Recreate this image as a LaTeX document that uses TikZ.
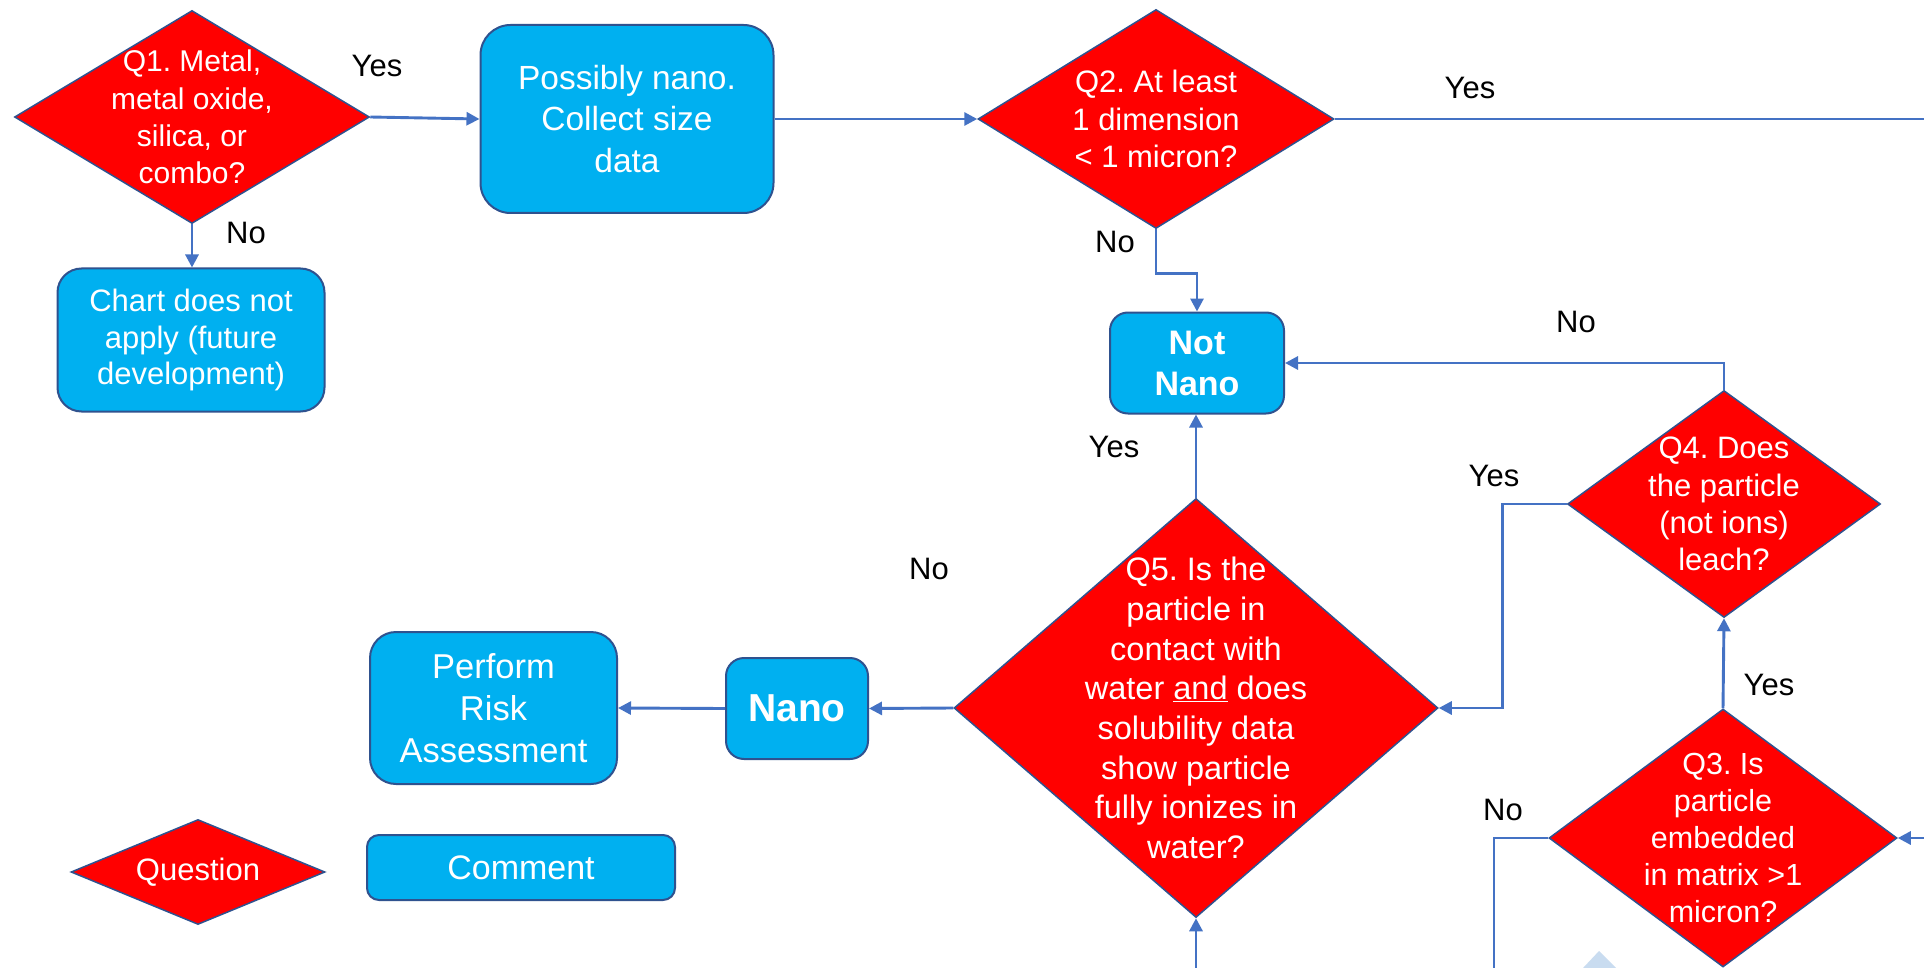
\documentclass[tikz,border=0pt]{standalone}
\usepackage{fontspec}
\setmainfont{Liberation Sans}
\usetikzlibrary{shapes.geometric,arrows.meta,calc}

\definecolor{boxblue}{HTML}{00B0F0}
\definecolor{edgeblue}{HTML}{2F528F}
\definecolor{qred}{HTML}{FF0000}
\definecolor{linkblue}{HTML}{4472C4}
\definecolor{paleblue}{HTML}{C9DCF0}

\newcommand{\fsz}[2]{\fontsize{#1}{#2}\selectfont}
\frenchspacing

\begin{document}
\begin{tikzpicture}[x=1pt,y=-1pt,
  qshape/.style={diamond, draw=edgeblue, line width=1.5pt, fill=qred, inner sep=0pt},
  qtext/.style={text=white, align=center, inner sep=0pt},
  box/.style={draw=edgeblue, line width=2pt, fill=boxblue, text=white, align=center, inner sep=0pt},
  link/.style={draw=linkblue, line width=2.9pt},
  arr/.style={link, -{Triangle[length=13pt,width=13pt]}},
  lbl/.style={text=black, font=\fsz{31}{37}, inner sep=0pt}]

% canvas
\fill[white] (0,0) rectangle (1924,968);
\useasboundingbox (0,0) rectangle (1924,968);

% ---- question diamonds ----
\node[qshape, minimum width=355pt, minimum height=213pt] (q1) at (192,117) {};
\node[qtext, font=\fsz{30}{37.2}] (q1t) at (q1) {Q1. Metal,\\metal oxide,\\silica, or\\combo?};

\node[qshape, minimum width=356pt, minimum height=219pt] (q2) at (1156,119) {};
\node[qtext, font=\fsz{31}{37.4}] (q2t) at (q2) {Q2. At least\\1 dimension\\< 1 micron?};

\node[qshape, minimum width=313pt, minimum height=227pt] (q4) at (1724,504) {};
\node[qtext, font=\fsz{31}{37.2}] (q4t) at (q4) {Q4. Does\\the particle\\(not ions)\\leach?};

\node[qshape, minimum width=484pt, minimum height=419pt] (q5) at (1196,708) {};
\node[qtext, font=\fsz{32.5}{39.7}] (q5t) at (q5) {Q5. Is the\\particle in\\contact with\\water \underline{and} does\\solubility data\\show particle\\fully ionizes in\\water?};

\node[qshape, minimum width=348pt, minimum height=258pt] (q3) at (1723,838) {};
\node[qtext, font=\fsz{30.5}{37}] (q3t) at (q3) {Q3. Is\\particle\\embedded\\in matrix >1\\micron?};

% ---- comment boxes ----
\node[box, rounded corners=30pt, minimum width=293pt, minimum height=188pt, font=\fsz{33.5}{41.7}] (pos) at (627,119) {Possibly nano.\\Collect size\\data};
\node[box, rounded corners=24pt, minimum width=267pt, minimum height=143pt, font=\fsz{31}{36.7}] (chart) at (191,340) {Chart does not\\apply (future\\development)};
\node[box, rounded corners=18pt, minimum width=174pt, minimum height=101pt, font=\bfseries\fsz{34}{41}] (notnano) at (1197,363) {Not\\Nano};
\node[box, rounded corners=18pt, minimum width=142pt, minimum height=101pt, font=\bfseries\fsz{39}{46}] (nano) at (797,708.5) {Nano};
\node[box, rounded corners=26pt, minimum width=247pt, minimum height=152pt, font=\fsz{34.5}{42}] (risk) at (493.5,708) {Perform\\Risk\\Assessment};

% ---- legend ----
\node[qshape, minimum width=254pt, minimum height=105pt] (legq) at (198,872) {};
\node[qtext, font=\fsz{31}{37}] (legqt) at (legq) {Question};
\node[box, rounded corners=12pt, minimum width=308pt, minimum height=65pt, font=\fsz{34}{40}] (legc) at (521,867.5) {Comment};

% ---- loose ends at the page border ----
\coordinate (outR) at (1924,119);
\coordinate (inR) at (1924,838);
\coordinate (inB) at (1196,968);
\coordinate (outB) at (1494,968);

% ---- connectors ----
\draw[arr] (q1.east) -- (pos.west);
\draw[arr] (q1.south) -- (q1.south |- chart.north);
\draw[arr] (pos.east) -- (q2.west);
\draw[link] (q2.east) -- (outR);
\draw[arr] (q2.south) -- ++(0,44) -| (notnano.north);
\draw[arr] (q4.north) |- (notnano.east);
\draw[arr] (q5.north) -- (q5.north |- notnano.south);
\draw[arr] (q4.west) -- ++(-64,0) |- (q5.east);
\draw[arr] (q5.west) -- (nano.east);
\draw[arr] (nano.west) -- (risk.east);
\draw[arr] (q3.north) -- (q4.south);
\draw[link] (q3.west) -| (outB);
\draw[arr] (inR) -- (q3.east);
\draw[arr] (inB) -- (q5.south);

% ---- branch labels ----
\node[lbl] (l1y) at (377,66) {Yes};
\node[lbl] (l1n) at (246,233) {No};
\node[lbl] (l2y) at (1470,88) {Yes};
\node[lbl] (l2n) at (1115,242) {No};
\node[lbl] (l4n) at (1576,322) {No};
\node[lbl] (l5y) at (1114,447) {Yes};
\node[lbl] (l4y) at (1494,476) {Yes};
\node[lbl] (l5n) at (929,569) {No};
\node[lbl] (l3y) at (1769,685) {Yes};
\node[lbl] (l3n) at (1503,810) {No};

% ---- partly visible shape at the lower edge ----
\fill[paleblue] (1583,968) -- (1599,951) -- (1616,968) -- cycle;

\end{tikzpicture}
\end{document}
